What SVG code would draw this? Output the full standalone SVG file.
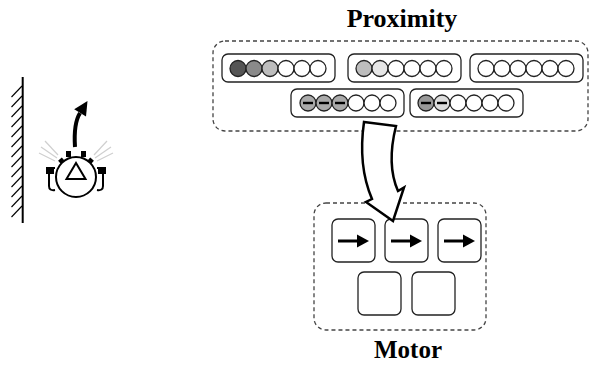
<svg xmlns="http://www.w3.org/2000/svg" width="597" height="365" viewBox="0 0 597 365">
  <defs>
    <style>
      .title { font-family: "Liberation Serif", "Times New Roman", serif; font-weight: bold; font-size: 25px; fill: #000; text-anchor: middle; }
      .area { fill: none; stroke: #444; stroke-width: 1.3; stroke-dasharray: 4 3; }
      .group { fill: #fff; stroke: #222; stroke-width: 1.3; }
      .cell { stroke: #222; stroke-width: 1.3; }
      .bar { stroke: #000; stroke-width: 2.4; }
      .motor { fill: #fff; stroke: #222; stroke-width: 1.3; }
      .ray { stroke: #cfcfcf; stroke-width: 1.2; }
    </style>
    <g id="dir">
      <line x1="6" y1="22" x2="27" y2="22" stroke="#000" stroke-width="3"/>
      <polygon points="25,15.5 37,22 25,28.5" fill="#000"/>
    </g>
  </defs>

  <rect width="597" height="365" fill="#fff"/>

  <!-- wall -->
  <g id="wall" stroke="#000">
    <line x1="22.7" y1="77" x2="22.7" y2="223" stroke-width="2"/>
    <g stroke-width="1.1">
      <line x1="11.5" y1="97" x2="22" y2="86"/>
      <line x1="11.5" y1="107" x2="22" y2="96"/>
      <line x1="11.5" y1="117" x2="22" y2="106"/>
      <line x1="11.5" y1="127" x2="22" y2="116"/>
      <line x1="11.5" y1="137" x2="22" y2="126"/>
      <line x1="11.5" y1="147" x2="22" y2="136"/>
      <line x1="11.5" y1="157" x2="22" y2="146"/>
      <line x1="11.5" y1="167" x2="22" y2="156"/>
      <line x1="11.5" y1="177" x2="22" y2="166"/>
      <line x1="11.5" y1="187" x2="22" y2="176"/>
      <line x1="11.5" y1="197" x2="22" y2="186"/>
      <line x1="11.5" y1="207" x2="22" y2="196"/>
      <line x1="11.5" y1="217" x2="22" y2="206"/>
    </g>
  </g>

  <!-- robot -->
  <g id="robot">
    <g class="ray">
      <line x1="57" y1="158" x2="41" y2="147"/>
      <line x1="55" y1="161" x2="39" y2="153"/>
      <line x1="58" y1="155" x2="45" y2="141"/>
      <line x1="95" y1="158" x2="111" y2="147"/>
      <line x1="97" y1="161" x2="113" y2="153"/>
      <line x1="94" y1="155" x2="107" y2="141"/>
    </g>
    <!-- wheels -->
    <path d="M55,168 L49,168 L49,186 Q49,191 55,190" fill="none" stroke="#000" stroke-width="2"/>
    <path d="M97,168 L103,168 L103,186 Q103,191 97,190" fill="none" stroke="#000" stroke-width="2"/>
    <rect x="46" y="167" width="8" height="7" fill="#000"/>
    <rect x="98" y="167" width="8" height="7" fill="#000"/>
    <!-- sensor bumps -->
    <rect x="66" y="151" width="5" height="6" fill="#000"/>
    <rect x="81" y="151" width="5" height="6" fill="#000"/>
    <rect x="-2.5" y="-24" width="5" height="6" fill="#000" transform="translate(76,177) rotate(-42)"/>
    <rect x="-2.5" y="-24" width="5" height="6" fill="#000" transform="translate(76,177) rotate(42)"/>
    <circle cx="76" cy="177" r="20" fill="#fff" stroke="#000" stroke-width="2"/>
    <polygon points="66.5,179 85.5,179 76,163" fill="none" stroke="#000" stroke-width="2"/>
    <!-- heading -->
    <path d="M75,147 C74,132 75,121 80,113" fill="none" stroke="#000" stroke-width="4"/>
    <polygon points="87.5,101 86,116.6 74.2,109.2" fill="#000"/>
  </g>

  <!-- proximity area -->
  <g id="proximity">
    <text class="title" x="402" y="27" style="font-size:26px">Proximity</text>
    <rect class="area" x="213" y="41" width="375" height="90" rx="12"/>

    <g id="prox-1">
      <rect class="group" x="222" y="54" width="113" height="28" rx="6"/>
      <circle class="cell" cx="238" cy="68.5" r="8" fill="#555"/>
      <circle class="cell" cx="254" cy="68.5" r="8" fill="#8a8a8a"/>
      <circle class="cell" cx="270" cy="68.5" r="8" fill="#bdbdbd"/>
      <circle class="cell" cx="286" cy="68.5" r="8" fill="#fff"/>
      <circle class="cell" cx="302" cy="68.5" r="8" fill="#fff"/>
      <circle class="cell" cx="318" cy="68.5" r="8" fill="#fff"/>
    </g>
    <g id="prox-2">
      <rect class="group" x="348" y="54" width="113" height="28" rx="6"/>
      <circle class="cell" cx="364" cy="68.5" r="8" fill="#bdbdbd"/>
      <circle class="cell" cx="380" cy="68.5" r="8" fill="#e6e6e6"/>
      <circle class="cell" cx="396" cy="68.5" r="8" fill="#fff"/>
      <circle class="cell" cx="412" cy="68.5" r="8" fill="#fff"/>
      <circle class="cell" cx="428" cy="68.5" r="8" fill="#fff"/>
      <circle class="cell" cx="444" cy="68.5" r="8" fill="#fff"/>
    </g>
    <g id="prox-3">
      <rect class="group" x="470" y="54" width="113" height="28" rx="6"/>
      <circle class="cell" cx="486" cy="68.5" r="8" fill="#fff"/>
      <circle class="cell" cx="502" cy="68.5" r="8" fill="#fff"/>
      <circle class="cell" cx="518" cy="68.5" r="8" fill="#fff"/>
      <circle class="cell" cx="534" cy="68.5" r="8" fill="#fff"/>
      <circle class="cell" cx="550" cy="68.5" r="8" fill="#fff"/>
      <circle class="cell" cx="566" cy="68.5" r="8" fill="#fff"/>
    </g>
    <g id="prox-4">
      <rect class="group" x="291" y="89" width="113" height="28" rx="6"/>
      <circle class="cell" cx="308" cy="103" r="8" fill="#aaa"/>
      <circle class="cell" cx="324" cy="103" r="8" fill="#aaa"/>
      <circle class="cell" cx="340" cy="103" r="8" fill="#aaa"/>
      <circle class="cell" cx="356" cy="103" r="8" fill="#fff"/>
      <circle class="cell" cx="372" cy="103" r="8" fill="#fff"/>
      <circle class="cell" cx="388" cy="103" r="8" fill="#fff"/>
      <line class="bar" x1="303" y1="103" x2="313" y2="103"/>
      <line class="bar" x1="319" y1="103" x2="329" y2="103"/>
      <line class="bar" x1="335" y1="103" x2="345" y2="103"/>
    </g>
    <g id="prox-5">
      <rect class="group" x="410" y="89" width="113" height="28" rx="6"/>
      <circle class="cell" cx="426" cy="103" r="8" fill="#999"/>
      <circle class="cell" cx="442" cy="103" r="8" fill="#ddd"/>
      <circle class="cell" cx="458" cy="103" r="8" fill="#fff"/>
      <circle class="cell" cx="474" cy="103" r="8" fill="#fff"/>
      <circle class="cell" cx="490" cy="103" r="8" fill="#fff"/>
      <circle class="cell" cx="506" cy="103" r="8" fill="#fff"/>
      <line class="bar" x1="421" y1="103" x2="431" y2="103"/>
      <line class="bar" x1="437" y1="103" x2="447" y2="103"/>
    </g>
  </g>

  <!-- motor area -->
  <g id="motor">
    <rect class="area" x="314" y="203" width="172" height="127" rx="12"/>
    <g id="motor-1">
      <rect class="motor" x="332" y="219" width="43" height="43" rx="6"/>
      <use href="#dir" x="332" y="219"/>
    </g>
    <g id="motor-2">
      <rect class="motor" x="385" y="219" width="43" height="43" rx="6"/>
      <use href="#dir" x="385" y="219"/>
    </g>
    <g id="motor-3">
      <rect class="motor" x="438" y="219" width="43" height="43" rx="6"/>
      <use href="#dir" x="438" y="219"/>
    </g>
    <g id="motor-4">
      <rect class="motor" x="358" y="272" width="43" height="43" rx="6"/>
    </g>
    <g id="motor-5">
      <rect class="motor" x="412" y="272" width="43" height="43" rx="6"/>
    </g>
    <text class="title" x="408" y="358">Motor</text>
  </g>

  <!-- connectors -->
  <g id="connectors">
    <path d="M364,122 L396,126 C390,150 390,173 398,191 L404,187.5 L393,221 L366,202 L372,199 C363,178 360,150 364,122 Z"
          fill="#fff" stroke="#000" stroke-width="2.5" stroke-linejoin="miter"/>
  </g>
</svg>
